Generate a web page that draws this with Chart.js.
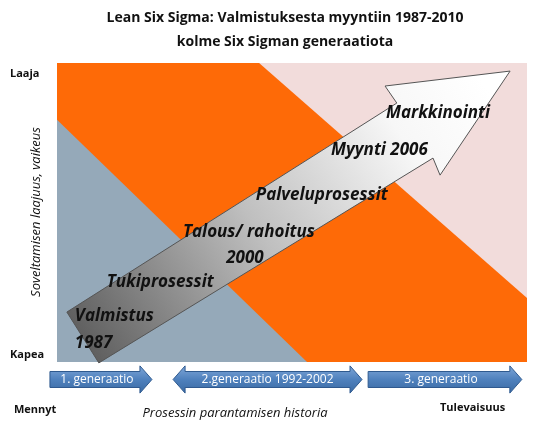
<!DOCTYPE html>
<html>
<head>
<meta charset="utf-8">
<script src="https://cdn.jsdelivr.net/npm/chart.js@4/dist/chart.umd.min.js"></script>
<style>
  html, body { margin: 0; padding: 0; background: #fff; }
  #wrap { width: 540px; height: 428px; position: relative; }
</style>
</head>
<body>
<div id="wrap"><canvas id="c"></canvas></div>
<script>
// Regions (x: history 0..100, y: scope 0..100)
const greyRegion = [[0, 81], [0, 0], [53.2, 0]];
const pinkRegion = [[43, 100], [100, 100], [100, 21.4]];
// Big arrow outline
const bigArrow = [[8.9, -0.3], [2.1, 16.7], [72.3, 86.6], [69.8, 92.3], [96.4, 97.3], [81.5, 62.5], [80, 68.2]];
// Phase labels on the arrow
const stepLabels = ['Valmistus', '1987', 'Tukiprosessit', 'Talous/ rahoitus', '2000', 'Palveluprosessit', 'Myynti 2006', 'Markkinointi'];
const stepX = [3.8, 3.8, 10.6, 26.8, 36.0, 42.3, 58.3, 70.0];
const stepY = [15.4, 6.4, 26.8, 43.5, 34.8, 55.9, 70.9, 83.3];
// Generations along the bottom
const genLabels = ['1. generaatio', '2.generaatio 1992-2002', '3. generaatio'];
const genFrom = [-1.5, 24.7, 66.2];
const genTo = [20.2, 64.9, 98.9];
const genDouble = [false, true, false];

const title = ['Lean Six Sigma: Valmistuksesta myyntiin 1987-2010', 'kolme Six Sigman generaatiota'];

const drawPlugin = {
    id: 'diagram',
    beforeDatasetsDraw(chart) {
        const ctx = chart.ctx;
        const xs = chart.scales.x, ys = chart.scales.y;
        const px = v => xs.getPixelForValue(v);
        const py = v => ys.getPixelForValue(v);
        const a = chart.chartArea;

        const poly = (pts, fill) => {
            ctx.beginPath();
            pts.forEach((p, i) => i ? ctx.lineTo(px(p[0]), py(p[1])) : ctx.moveTo(px(p[0]), py(p[1])));
            ctx.closePath();
            ctx.fillStyle = fill;
            ctx.fill();
        };

        ctx.save();
        ctx.fillStyle = '#fe6a07';
        ctx.fillRect(a.left, a.top, a.right - a.left, a.bottom - a.top);
        poly(greyRegion, '#95a9b9');
        poly(pinkRegion, '#f2dcdb');

        // big arrow with gradient
        const g = ctx.createLinearGradient(px(3), py(5), px(90), py(95));
        g.addColorStop(0, '#595959');
        g.addColorStop(0.45, '#bfbfbf');
        g.addColorStop(0.8, '#f7f7f7');
        g.addColorStop(1, '#ffffff');
        poly(bigArrow, g);
        ctx.strokeStyle = '#555';
        ctx.lineWidth = 1;
        ctx.stroke();

        // labels on arrow
        ctx.fillStyle = '#111';
        ctx.font = 'italic bold 17px "Open Sans", sans-serif';
        ctx.textBaseline = 'middle';
        ctx.textAlign = 'left';
        stepLabels.forEach((t, i) => ctx.fillText(t, px(stepX[i]), py(stepY[i])));

        // bottom generation arrows
        const yTop = py(-1.3), yBot = py(-10.4), yMid = (yTop + yBot) / 2;
        const head = 12, shaft = 8;
        genLabels.forEach((t, i) => {
            const x0 = px(genFrom[i]), x1 = px(genTo[i]);
            ctx.beginPath();
            if (genDouble[i]) {
                ctx.moveTo(x0, yMid);
                ctx.lineTo(x0 + head, yTop);
                ctx.lineTo(x0 + head, yMid - shaft);
            } else {
                ctx.moveTo(x0, yMid - shaft);
            }
            ctx.lineTo(x1 - head, yMid - shaft);
            ctx.lineTo(x1 - head, yTop);
            ctx.lineTo(x1, yMid);
            ctx.lineTo(x1 - head, yBot);
            ctx.lineTo(x1 - head, yMid + shaft);
            if (genDouble[i]) {
                ctx.lineTo(x0 + head, yMid + shaft);
                ctx.lineTo(x0 + head, yBot);
            } else {
                ctx.lineTo(x0, yMid + shaft);
            }
            ctx.closePath();
            const bg = ctx.createLinearGradient(0, yTop, 0, yBot);
            bg.addColorStop(0, '#7ea6d8');
            bg.addColorStop(0.5, '#4f81bd');
            bg.addColorStop(1, '#3b6aa3');
            ctx.fillStyle = bg;
            ctx.fill();
            ctx.strokeStyle = '#2f5a8f';
            ctx.stroke();
            ctx.fillStyle = '#fff';
            ctx.font = '12px "Open Sans", sans-serif';
            ctx.textAlign = 'center';
            ctx.fillText(t, (x0 + x1) / 2 - (genDouble[i] ? 0 : 4), yMid);
        });

        // titles and axis texts
        ctx.fillStyle = '#111';
        ctx.textAlign = 'center';
        ctx.font = 'bold 14px "Open Sans", sans-serif';
        ctx.fillText(title[0], 285, 18);
        ctx.fillText(title[1], 285, 42);

        ctx.font = 'bold 11px "Open Sans", sans-serif';
        ctx.textAlign = 'left';
        ctx.fillText('Laaja', 10, 74);
        ctx.fillText('Kapea', 10, 355);
        ctx.fillText('Mennyt', 14, 410);
        ctx.fillText('Tulevaisuus', 440, 408);
        ctx.font = 'italic 13px "Open Sans", sans-serif';
        ctx.textAlign = 'center';
        ctx.fillText('Prosessin parantamisen historia', 235, 413);

        ctx.translate(36, 212);
        ctx.rotate(-Math.PI / 2);
        ctx.fillText('Soveltamisen laajuus, vaikeus', 0, 0);
        ctx.restore();
    }
};

new Chart(document.getElementById('c'), {
    type: 'scatter',
    data: { datasets: [{ data: [], pointRadius: 0 }] },
    options: {
        responsive: true,
        maintainAspectRatio: false,
        animation: false,
        layout: { padding: { left: 57, right: 13, top: 63, bottom: 66 } },
        plugins: { legend: { display: false }, title: { display: false }, tooltip: { enabled: false } },
        scales: {
            x: { type: 'linear', min: 0, max: 100, display: false },
            y: { type: 'linear', min: 0, max: 100, display: false }
        }
    },
    plugins: [drawPlugin]
});
</script>
</body>
</html>
